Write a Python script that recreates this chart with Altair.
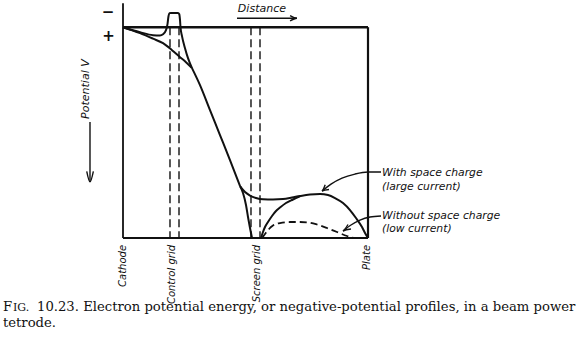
import altair as alt
import pandas as pd

# Units: distance 0 = cathode, 100 = plate; potential-energy 0 = cathode level, 100 = bottom of frame (positive V downward)
bump_x = [0, 6.94, 12.24, 15.10, 16.33, 17.55, 18.16, 18.57, 18.98, 19.59, 22.45, 22.98, 23.27, 23.47, 24.08, 25.31, 26.53, 28.16]
bump_y = [0, 2.37, 3.79, 3.89, 3.32, 1.42, -1.42, -5.21, -6.64, -6.78, -6.78, -6.16, -3.32, 0, 4.27, 9.95, 14.69, 19.43]

lower_x = [0, 6.94, 12.24, 16.33, 20.0, 23.27, 25.71, 28.16]
lower_y = [0, 2.84, 5.45, 7.58, 10.90, 14.22, 16.59, 19.43]

steep_x = [28.16, 31.43, 35.51, 39.59, 43.67, 47.76]
steep_y = [19.43, 27.49, 39.34, 51.18, 63.03, 75.36]

nosc_x = [47.76, 48.98, 50.20, 51.02, 51.84, 52.65]
nosc_y = [75.36, 78.67, 84.36, 90.05, 95.26, 100]

sc_x = [47.76, 49.80, 51.84, 54.29, 57.14, 61.22, 65.31, 68.98, 72.24, 76.33, 80.41, 83.67, 86.53, 89.80, 92.65, 95.10, 97.55, 98.78, 100]
sc_y = [75.36, 78.20, 79.86, 81.04, 81.66, 81.75, 81.52, 80.81, 80.09, 79.38, 79.15, 79.62, 81.04, 83.41, 86.73, 90.52, 94.79, 97.63, 100]

hump_x = [56.33, 57.14, 57.96, 59.18, 60.82, 62.45, 64.08, 66.53, 69.39, 72.24]
hump_y = [100, 97.16, 94.79, 92.42, 89.57, 87.20, 85.55, 83.41, 81.75, 80.24]

dash_x = [56.73, 57.96, 59.59, 61.22, 64.08, 68.16, 72.24, 75.10, 79.18, 83.27, 87.35, 91.43, 94.69, 100]
dash_y = [100, 98.10, 95.73, 94.08, 92.89, 92.42, 92.42, 92.56, 93.60, 95.26, 97.16, 99.05, 100, 100]

grid_x = [19.18, 22.86, 52.24, 55.92]

electrode_names = ["Cathode", "Control grid", "Screen grid", "Plate"]
electrode_x = [0, 20.0, 54.7, 99.6]

caption_1 = "10.23. Electron potential energy, or negative-potential profiles, in a beam power"
caption_2 = "tetrode."

INK = "#111111"
XS = alt.Scale(domain=[0, 100])
YS = alt.Scale(domain=[-11, 100], reverse=True)


def curve_df(name, xs, ys):
    return pd.DataFrame({"curve": name, "i": range(len(xs)), "x": xs, "y": ys})


curves = pd.concat([
    curve_df("bump", bump_x, bump_y),
    curve_df("lower", lower_x, lower_y),
    curve_df("steep", steep_x, steep_y),
    curve_df("nosc", nosc_x, nosc_y),
    curve_df("sc", sc_x, sc_y),
    curve_df("hump", hump_x, hump_y),
])

X = lambda f="x": alt.X(f"{f}:Q", scale=XS, axis=None)
Y = lambda f="y": alt.Y(f"{f}:Q", scale=YS, axis=None)

solid = alt.Chart(curves).mark_line(color=INK, strokeWidth=2, interpolate="monotone").encode(
    x=X(), y=Y(), detail="curve:N", order="i:Q")

dashed_curve = alt.Chart(curve_df("dash", dash_x, dash_y)).mark_line(
    color=INK, strokeWidth=1.8, strokeDash=[7, 4], interpolate="monotone").encode(x=X(), y=Y(), order="i:Q")

frame = alt.Chart(pd.DataFrame({
    "x": [0, 0, 100, 0], "x2": [0, 100, 100, 100],
    "y": [-11.4, 0, 0, 100], "y2": [100, 0, 100, 100],
    "w": [1.8, 2.4, 2.2, 2.2]})).mark_rule(color=INK).encode(
    x=X(), x2="x2:Q", y=Y(), y2="y2:Q", strokeWidth=alt.StrokeWidth("w:Q", scale=None, legend=None))

grids = alt.Chart(pd.DataFrame({"x": grid_x, "y": [0] * 4, "y2": [100] * 4})).mark_rule(
    color=INK, strokeWidth=1.4, strokeDash=[8, 4]).encode(x=X(), y=Y(), y2="y2:Q")

# annotation arrows
arrows = pd.concat([
    curve_df("a1", [105.31, 100, 94.69, 89.39, 84.90, 81.22], [68.72, 68.72, 69.67, 71.56, 74.41, 77.73]),
    curve_df("a1h", [84.08, 81.22, 82.53], [77.01, 77.73, 74.79]),
    curve_df("a2", [105.31, 100.82, 96.73, 93.06, 89.80], [89.57, 90.05, 91.47, 93.84, 96.68]),
    curve_df("a2h", [91.84, 89.80, 93.06], [93.60, 96.68, 95.73]),
    curve_df("d", [46.53, 71.02], [-4.27, -4.27]),
    curve_df("dh", [68.2, 71.02, 68.2], [-5.5, -4.27, -3.0]),
    curve_df("v", [-13.47, -13.47], [45.0, 73.4]),
    curve_df("vh", [-14.8, -13.47, -12.1], [68.4, 73.4, 68.4]),
])
arrow_lines = alt.Chart(arrows).mark_line(color=INK, strokeWidth=1.4, interpolate="monotone").encode(
    x=X(), y=Y(), detail="curve:N", order="i:Q")

sans = "DejaVu Sans"
ann = alt.Chart(pd.DataFrame({
    "x": [105.7, 105.7, 105.7, 105.7],
    "y": [69.2, 75.8, 89.6, 95.7],
    "t": ["With space charge", "(large current)", "Without space charge", "(low current)"]})).mark_text(
    font=sans, fontStyle="italic", fontSize=10.8, align="left", baseline="middle", color=INK).encode(
    x=X(), y=Y(), text="t:N")

dist = alt.Chart(pd.DataFrame({"x": [56.7], "y": [-8.6], "t": ["Distance"]})).mark_text(
    font=sans, fontStyle="italic", fontSize=11, align="center", baseline="middle", color=INK).encode(
    x=X(), y=Y(), text="t:N")

pot = alt.Chart(pd.DataFrame({"x": [-15.1], "y": [43.5], "t": ["Potential V"]})).mark_text(
    font=sans, fontStyle="italic", fontSize=11, angle=270, align="left", baseline="middle", color=INK).encode(
    x=X(), y=Y(), text="t:N")

signs = alt.Chart(pd.DataFrame({"x": [-6.1, -5.9], "y": [-7.1, 4.2], "t": ["−", "+"]})).mark_text(
    font=sans, fontSize=15, fontWeight="bold", align="center", baseline="middle", color=INK).encode(
    x=X(), y=Y(), text="t:N")

elec = alt.Chart(pd.DataFrame({"x": electrode_x, "y": [103.3] * 4, "t": electrode_names})).mark_text(
    font=sans, fontStyle="italic", fontSize=10, angle=270, align="right", baseline="middle", color=INK).encode(
    x=X(), y=Y(), text="t:N")

serif = "DejaVu Serif"
cap = alt.Chart(pd.DataFrame({
    "x": [-49.0, -44.9, -35.1, -49.0],
    "y": [134.6, 134.6, 134.6, 142.2],
    "t": ["F", "IG.", caption_1, caption_2],
    "s": [13.2, 11.0, 13.2, 13.2]})).mark_text(
    font=serif, align="left", baseline="alphabetic", color=INK).encode(
    x=X(), y=Y(), text="t:N", size=alt.Size("s:Q", scale=None, legend=None))

chart = alt.layer(frame, grids, solid, dashed_curve, arrow_lines, ann, dist, pot, signs, elec, cap).properties(
    width=245, height=234,
    autosize=alt.AutoSizeParams(type="none"),
    padding={"left": 123, "top": 4, "right": 212, "bottom": 117},
    background="white",
).configure_view(stroke=None)

chart.save("out.html", embed_options={"renderer": "svg", "actions": False})
